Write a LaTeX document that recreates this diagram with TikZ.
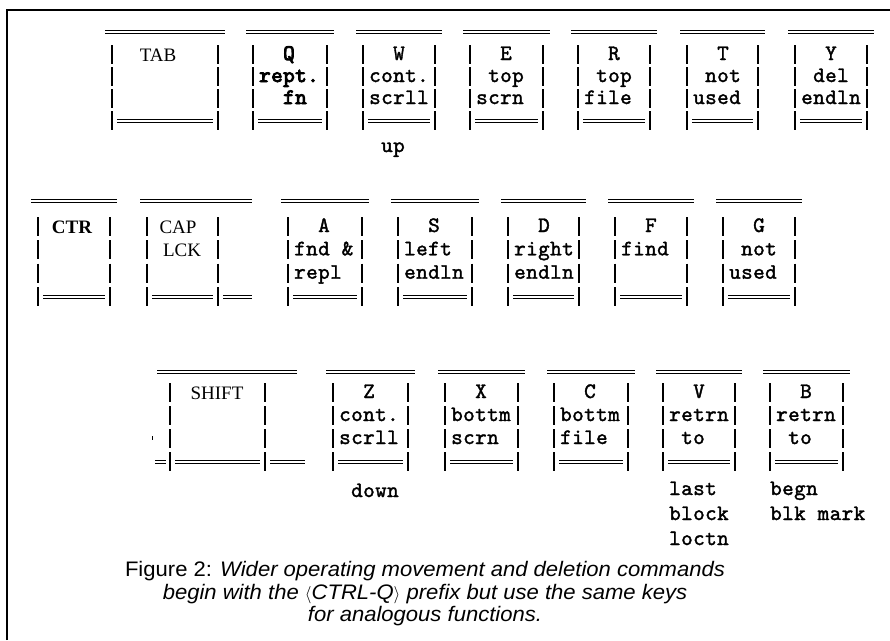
\documentclass[tikz,border=0pt]{standalone}
\usepackage{fontspec}
\newfontfamily\twfont{lmmono10-regular.otf}[FakeBold=1.6, LetterSpace=2]
\newfontfamily\twbold{lmmono10-regular.otf}[FakeBold=4, LetterSpace=2]
\newfontfamily\rmkey{Liberation Serif}
\newfontfamily\capfont{Liberation Sans}[FakeStretch=1.05]
\newcommand\abr[1]{{\fontsize{16}{16}\selectfont$#1$}}
\tikzset{
  dbl/.style={double, double distance=1.5pt, line width=1.3pt},
  keybar/.style={line width=1.8pt},
  frame/.style={line width=2.5pt},
  tw/.style={inner sep=0pt, font=\twfont\fontsize{22}{22}\selectfont},
  twb/.style={inner sep=0pt, font=\twbold\fontsize{22}{22}\selectfont},
  rmk/.style={inner sep=0pt, font=\rmkey\fontsize{19}{19}\selectfont},
  rmkb/.style={inner sep=0pt, font=\rmkey\bfseries\fontsize{19}{19}\selectfont},
  captxt/.style={inner sep=0pt, font=\capfont\fontsize{21}{22}\selectfont},
}
% #1 xl, #2 xr, #3 ytop, #4 y1, #5 ybot
\newcommand\drawkey[5]{%
  \pgfmathsetmacro\kstep{(#5-#4)/3}%
  \draw[dbl] (#1-7,#3) -- (#2+7,#3);
  \foreach \k in {0,1,2,3}{%
    \pgfmathsetmacro\yy{#4+\k*\kstep}%
    \draw[keybar] (#1,\yy-10) -- (#1,\yy+9);
    \draw[keybar] (#2,\yy-10) -- (#2,\yy+9);
  }
  \draw[dbl] (#1+5,#5) -- (#2-5,#5);
}
% #1 style, #2 name, #3 xl, #4 column, #5 row y, #6 text
\newcommand\kt[6]{\node[#1,anchor=base west] (#2) at ({#3+12*#4-6},{#5+5}) {#6};}
\begin{document}
\begin{tikzpicture}[x=1pt,y=-1pt]
\useasboundingbox (0,0) rectangle (890,640);
\draw[frame] (7,640) -- (7,10) -- (890,10);

% ---------- row A ----------
\def\Aa{55}\def\Ab{77}\def\Ac{99}\def\Ad{121}\def\At{32}
\drawkey{112}{218}{\At}{\Aa}{\Ad}
\drawkey{253}{327}{\At}{\Aa}{\Ad}
\drawkey{363}{435}{\At}{\Aa}{\Ad}
\drawkey{470}{543}{\At}{\Aa}{\Ad}
\drawkey{578}{650}{\At}{\Aa}{\Ad}
\drawkey{687}{758}{\At}{\Aa}{\Ad}
\drawkey{795}{867}{\At}{\Aa}{\Ad}
\node[rmk,anchor=base] (tab) at (158,\Aa+6) {TAB};
\kt{twb}{q1}{253}{3}{\Aa}{Q}
\kt{twb}{q2}{253}{1}{\Ab}{rept.}
\kt{twb}{q3}{253}{3}{\Ac}{fn}
\kt{tw}{w1}{363}{3}{\Aa}{W}
\kt{tw}{w2}{363}{1}{\Ab}{cont.}
\kt{tw}{w3}{363}{1}{\Ac}{scrll}
\kt{tw}{w4}{363}{2}{147}{up}
\kt{tw}{e1}{470}{3}{\Aa}{E}
\kt{tw}{e2}{470}{2}{\Ab}{top}
\kt{tw}{e3}{470}{1}{\Ac}{scrn}
\kt{tw}{r1}{578}{3}{\Aa}{R}
\kt{tw}{r2}{578}{2}{\Ab}{top}
\kt{tw}{r3}{578}{1}{\Ac}{file}
\kt{tw}{t1}{687}{3}{\Aa}{T}
\kt{tw}{t2}{687}{2}{\Ab}{not}
\kt{tw}{t3}{687}{1}{\Ac}{used}
\kt{tw}{y1}{795}{3}{\Aa}{Y}
\kt{tw}{y2}{795}{2}{\Ab}{del}
\kt{tw}{y3}{795}{1}{\Ac}{endln}

% ---------- row B ----------
\def\Ba{227}\def\Bb{250.3}\def\Bc{273.7}\def\Bd{297}\def\Bt{201}
\drawkey{38}{110}{\Bt}{\Ba}{\Bd}
\drawkey{147}{218}{\Bt}{\Ba}{\Bd}
\draw[dbl] (218,\Bt) -- (252,\Bt);
\draw[dbl] (223,\Bd) -- (252,\Bd);
\drawkey{288}{362}{\Bt}{\Ba}{\Bd}
\drawkey{398}{472}{\Bt}{\Ba}{\Bd}
\drawkey{508}{579}{\Bt}{\Ba}{\Bd}
\drawkey{615}{687}{\Bt}{\Ba}{\Bd}
\drawkey{723}{795}{\Bt}{\Ba}{\Bd}
\node[rmkb,anchor=base] (ctr) at (72,\Ba+6) {CTR};
\node[rmk,anchor=base] (cap1) at (178,\Ba+6) {CAP};
\node[rmk,anchor=base] (cap2) at (182,\Bb+6) {LCK};
\kt{tw}{a1}{288}{3}{\Ba}{A}
\kt{tw}{a2}{288}{1}{\Bb}{fnd \&}
\kt{tw}{a3}{288}{1}{\Bc}{repl}
\kt{tw}{s1}{398}{3}{\Ba}{S}
\kt{tw}{s2}{398}{1}{\Bb}{left}
\kt{tw}{s3}{398}{1}{\Bc}{endln}
\kt{tw}{d1}{508}{3}{\Ba}{D}
\kt{tw}{d2}{508}{1}{\Bb}{right}
\kt{tw}{d3}{508}{1}{\Bc}{endln}
\kt{tw}{f1}{615}{3}{\Ba}{F}
\kt{tw}{f2}{615}{1}{\Bb}{find}
\kt{tw}{g1}{723}{3}{\Ba}{G}
\kt{tw}{g2}{723}{2}{\Bb}{not}
\kt{tw}{g3}{723}{1}{\Bc}{used}

% ---------- row C ----------
\def\Ca{393}\def\Cb{416}\def\Cc{439}\def\Cd{462}\def\Ct{372}
\drawkey{170}{265}{\Ct}{\Ca}{\Cd}
\draw[dbl] (157,\Ct) -- (297,\Ct);
\draw[dbl] (155,\Cd) -- (166,\Cd);
\draw[dbl] (270,\Cd) -- (305,\Cd);
\draw[line width=1pt] (152,436) -- (152,440);
\drawkey{333}{408}{\Ct}{\Ca}{\Cd}
\drawkey{445}{518}{\Ct}{\Ca}{\Cd}
\drawkey{554}{628}{\Ct}{\Ca}{\Cd}
\drawkey{663}{735}{\Ct}{\Ca}{\Cd}
\drawkey{770}{843}{\Ct}{\Ca}{\Cd}
\node[rmk,anchor=base] (shift) at (217,\Ca+6) {SHIFT};
\kt{tw}{z1}{333}{3}{\Ca}{Z}
\kt{tw}{z2}{333}{1}{\Cb}{cont.}
\kt{tw}{z3}{333}{1}{\Cc}{scrll}
\kt{tw}{z4}{333}{2}{492}{down}
\kt{tw}{x1}{445}{3}{\Ca}{X}
\kt{tw}{x2}{445}{1}{\Cb}{bottm}
\kt{tw}{x3}{445}{1}{\Cc}{scrn}
\kt{tw}{c1}{554}{3}{\Ca}{C}
\kt{tw}{c2}{554}{1}{\Cb}{bottm}
\kt{tw}{c3}{554}{1}{\Cc}{file}
\kt{tw}{v1}{663}{3}{\Ca}{V}
\kt{tw}{v2}{663}{1}{\Cb}{retrn}
\kt{tw}{v3}{663}{2}{\Cc}{to}
\kt{tw}{v4}{663}{1}{490}{last}
\kt{tw}{v5}{663}{1}{515}{block}
\kt{tw}{v6}{663}{1}{540}{loctn}
\kt{tw}{b1}{770}{3}{\Ca}{B}
\kt{tw}{b2}{770}{1}{\Cb}{retrn}
\kt{tw}{b3}{770}{2}{\Cc}{to}
\kt{tw}{b4}{770}{0.5}{490}{begn}
\kt{tw}{b5}{770}{0.5}{515}{blk mark}

% ---------- caption ----------
\node[captxt,anchor=base] (cpa) at (425,576) {Figure 2: \itshape Wider operating movement and deletion commands};
\node[captxt,anchor=base] (cpb) at (425,599) {\itshape begin with the \abr{\langle}CTRL-Q\abr{\rangle} prefix but use the same keys};
\node[captxt,anchor=base] (cpc) at (425,621) {\itshape for analogous functions.};
\end{tikzpicture}
\end{document}
